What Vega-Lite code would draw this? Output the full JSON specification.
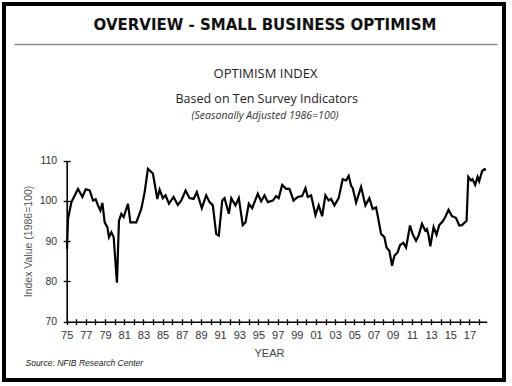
{
  "$schema": "https://vega.github.io/schema/vega-lite/v6.json",
  "width": 500,
  "height": 376,
  "autosize": "none",
  "padding": {"left": 4, "top": 4, "right": 8, "bottom": 6},
  "background": "white",
  "config": {
    "view": {"stroke": "black", "strokeWidth": 4, "fill": "white"},
    "axis": {"labelFont": "Liberation Sans", "titleFont": "Liberation Sans", "labelColor": "#333", "titleColor": "#444", "grid": false}
  },
  "title": {
    "text": "OVERVIEW - SMALL BUSINESS OPTIMISM",
    "subtitle": "(Seasonally Adjusted 1986=100)",
    "font": "DejaVu Sans",
    "fontSize": 15,
    "fontWeight": "bold",
    "color": "#111",
    "subtitleFont": "Open Sans",
    "subtitleFontSize": 10.5,
    "subtitleFontStyle": "italic",
    "subtitleColor": "#333",
    "subtitlePadding": 78,
    "anchor": "middle",
    "dx": 11,
    "offset": -117
  },
  "data": {
    "values": [
      {"year": 1975.03, "index": 88.1},
      {"year": 1975.14, "index": 95.6},
      {"year": 1975.49, "index": 99.7},
      {"year": 1976.18, "index": 103.0},
      {"year": 1976.64, "index": 101.0},
      {"year": 1976.98, "index": 102.9},
      {"year": 1977.40, "index": 102.6},
      {"year": 1977.74, "index": 100.1},
      {"year": 1978.02, "index": 100.4},
      {"year": 1978.26, "index": 98.9},
      {"year": 1978.51, "index": 97.6},
      {"year": 1978.72, "index": 99.5},
      {"year": 1978.96, "index": 94.7},
      {"year": 1979.24, "index": 93.5},
      {"year": 1979.41, "index": 91.0},
      {"year": 1979.66, "index": 92.2},
      {"year": 1979.90, "index": 91.0},
      {"year": 1980.24, "index": 79.7},
      {"year": 1980.45, "index": 95.1},
      {"year": 1980.70, "index": 96.8},
      {"year": 1980.94, "index": 96.0},
      {"year": 1981.39, "index": 99.3},
      {"year": 1981.64, "index": 94.7},
      {"year": 1982.26, "index": 94.7},
      {"year": 1982.78, "index": 98.0},
      {"year": 1983.13, "index": 102.2},
      {"year": 1983.47, "index": 108.0},
      {"year": 1983.82, "index": 107.2},
      {"year": 1983.99, "index": 106.8},
      {"year": 1984.45, "index": 100.5},
      {"year": 1984.69, "index": 102.8},
      {"year": 1985.03, "index": 100.7},
      {"year": 1985.31, "index": 101.4},
      {"year": 1985.66, "index": 99.3},
      {"year": 1986.15, "index": 101.0},
      {"year": 1986.59, "index": 99.0},
      {"year": 1986.95, "index": 100.1},
      {"year": 1987.40, "index": 102.6},
      {"year": 1987.81, "index": 100.7},
      {"year": 1988.23, "index": 100.5},
      {"year": 1988.57, "index": 102.2},
      {"year": 1989.09, "index": 98.2},
      {"year": 1989.55, "index": 101.4},
      {"year": 1989.90, "index": 99.7},
      {"year": 1990.24, "index": 98.9},
      {"year": 1990.59, "index": 91.8},
      {"year": 1990.86, "index": 91.4},
      {"year": 1991.22, "index": 100.1},
      {"year": 1991.46, "index": 100.7},
      {"year": 1991.91, "index": 96.8},
      {"year": 1992.16, "index": 100.7},
      {"year": 1992.60, "index": 98.9},
      {"year": 1992.95, "index": 100.7},
      {"year": 1993.36, "index": 94.0},
      {"year": 1993.65, "index": 94.7},
      {"year": 1993.99, "index": 99.3},
      {"year": 1994.34, "index": 98.2},
      {"year": 1994.93, "index": 101.8},
      {"year": 1995.28, "index": 99.9},
      {"year": 1995.63, "index": 101.4},
      {"year": 1995.97, "index": 99.7},
      {"year": 1996.49, "index": 100.1},
      {"year": 1996.84, "index": 101.2},
      {"year": 1997.11, "index": 100.7},
      {"year": 1997.47, "index": 104.0},
      {"year": 1997.89, "index": 103.0},
      {"year": 1998.23, "index": 103.0},
      {"year": 1998.65, "index": 100.1},
      {"year": 1999.09, "index": 101.0},
      {"year": 1999.55, "index": 101.2},
      {"year": 1999.90, "index": 103.2},
      {"year": 2000.14, "index": 101.0},
      {"year": 2000.49, "index": 101.4},
      {"year": 2000.94, "index": 96.5},
      {"year": 2001.28, "index": 98.9},
      {"year": 2001.64, "index": 96.2},
      {"year": 2001.98, "index": 101.4},
      {"year": 2002.32, "index": 100.1},
      {"year": 2002.57, "index": 100.5},
      {"year": 2002.92, "index": 98.9},
      {"year": 2003.36, "index": 100.7},
      {"year": 2003.78, "index": 105.4},
      {"year": 2004.14, "index": 105.1},
      {"year": 2004.41, "index": 106.2},
      {"year": 2004.66, "index": 103.7},
      {"year": 2004.82, "index": 103.3},
      {"year": 2005.18, "index": 99.6},
      {"year": 2005.70, "index": 103.5},
      {"year": 2006.15, "index": 98.9},
      {"year": 2006.56, "index": 100.7},
      {"year": 2006.91, "index": 98.0},
      {"year": 2007.26, "index": 98.4},
      {"year": 2007.43, "index": 96.4},
      {"year": 2007.78, "index": 91.8},
      {"year": 2008.13, "index": 91.0},
      {"year": 2008.36, "index": 88.4},
      {"year": 2008.65, "index": 87.6},
      {"year": 2008.93, "index": 83.9},
      {"year": 2009.17, "index": 86.4},
      {"year": 2009.51, "index": 87.2},
      {"year": 2009.76, "index": 89.0},
      {"year": 2010.10, "index": 89.6},
      {"year": 2010.39, "index": 88.4},
      {"year": 2010.80, "index": 93.9},
      {"year": 2011.07, "index": 91.8},
      {"year": 2011.43, "index": 90.1},
      {"year": 2011.70, "index": 91.4},
      {"year": 2012.05, "index": 94.3},
      {"year": 2012.40, "index": 92.6},
      {"year": 2012.57, "index": 93.0},
      {"year": 2012.74, "index": 91.4},
      {"year": 2012.92, "index": 88.7},
      {"year": 2013.26, "index": 93.5},
      {"year": 2013.57, "index": 91.6},
      {"year": 2013.85, "index": 94.0},
      {"year": 2014.20, "index": 94.9},
      {"year": 2014.48, "index": 96.0},
      {"year": 2014.82, "index": 97.8},
      {"year": 2015.18, "index": 96.2},
      {"year": 2015.59, "index": 95.8},
      {"year": 2015.94, "index": 93.9},
      {"year": 2016.22, "index": 94.0},
      {"year": 2016.70, "index": 95.1},
      {"year": 2016.88, "index": 106.0},
      {"year": 2017.16, "index": 105.1},
      {"year": 2017.32, "index": 105.4},
      {"year": 2017.60, "index": 104.0},
      {"year": 2017.85, "index": 106.0},
      {"year": 2018.02, "index": 104.9},
      {"year": 2018.32, "index": 107.4},
      {"year": 2018.56, "index": 107.9},
      {"year": 2018.72, "index": 107.7}
    ]
  },
  "layer": [
    {
      "layer": [
        {
          "mark": {"type": "line", "color": "black", "strokeWidth": 2.2},
          "encoding": {
            "x": {
              "field": "year", "type": "quantitative",
              "scale": {"domain": [1975, 2018.8], "range": [62.7, 482.7], "nice": false, "zero": false},
              "axis": {
                "orient": "bottom", "offset": -61.3, "domain": false, "tickSize": 6, "tickColor": "black", "tickWidth": 1.3,
                "values": [1975,1976,1977,1978,1979,1980,1981,1982,1983,1984,1985,1986,1987,1988,1989,1990,1991,1992,1993,1994,1995,1996,1997,1998,1999,2000,2001,2002,2003,2004,2005,2006,2007,2008,2009,2010,2011,2012,2013,2014,2015,2016,2017,2018],
                "labelExpr": "datum.value % 2 == 1 ? slice(toString(datum.value), 2) : ''",
                "labelOverlap": false, "labelFlush": false, "labelFontSize": 11, "labelPadding": 5,
                "title": "YEAR", "titleFontSize": 11, "titleFontWeight": "normal", "titleX": 265, "titleY": 35, "titleAlign": "center", "titleBaseline": "middle"
              }
            },
            "y": {
              "field": "index", "type": "quantitative",
              "scale": {"domain": [70, 110], "range": [317.7, 156.7], "nice": false, "zero": false},
              "axis": {
                "orient": "left", "offset": -66.2, "domain": false, "tickSize": 7, "tickColor": "black", "tickWidth": 1.3,
                "values": [70, 80, 90, 100, 110], "labelFontSize": 10.5, "labelPadding": 6.5,
                "title": "Index Value (1986=100)", "titleFontSize": 10.5, "titleFontWeight": "normal", "titleColor": "#555",
                "titleX": -41.2, "titleY": 237, "titleAngle": -90, "titleAlign": "center", "titleBaseline": "middle"
              }
            }
          }
        },
        {
          "mark": {"type": "line", "opacity": 0},
          "encoding": {
            "x": {
              "field": "year", "type": "quantitative",
              "axis": {
                "orient": "bottom", "offset": -58.3, "domain": true, "domainColor": "black", "domainWidth": 1.6, "ticks": false, "labels": false,
                "title": "Source: NFIB Research Center", "titleFont": "Liberation Sans", "titleFontSize": 8.5, "titleFontStyle": "italic", "titleFontWeight": "normal", "titleColor": "#222",
                "titleX": 21, "titleY": 41, "titleAlign": "left", "titleBaseline": "middle", "titleAnchor": "start"
              }
            },
            "y": {
              "field": "index", "type": "quantitative",
              "axis": {
                "orient": "left", "offset": -62.7, "domain": true, "domainColor": "black", "domainWidth": 1.6, "ticks": false, "labels": false,
                "title": "Based on Ten Survey Indicators", "titleFont": "Open Sans", "titleFontSize": 12.5, "titleFontWeight": "normal", "titleColor": "#222",
                "titleX": 199.5, "titleY": 94.5, "titleAngle": 0, "titleAlign": "center", "titleBaseline": "middle"
              }
            }
          }
        }
      ],
      "resolve": {"axis": {"x": "independent", "y": "independent"}}
    },
    {
      "mark": {"type": "point", "opacity": 0},
      "encoding": {
        "x": {
          "field": "year", "type": "quantitative",
          "scale": {"domain": [1975, 2018.8], "range": [10, 493], "nice": false, "zero": false},
          "axis": {
            "orient": "top", "offset": -40, "domain": true, "domainColor": "#888", "domainWidth": 1.5, "ticks": false, "labels": false,
            "title": "OPTIMISM INDEX", "titleFont": "Open Sans", "titleFontSize": 13, "titleFontWeight": "normal", "titleColor": "#222",
            "titleX": 261, "titleY": 29, "titleAlign": "center", "titleBaseline": "middle"
          }
        }
      }
    }
  ],
  "resolve": {"scale": {"x": "independent"}, "axis": {"x": "independent"}}
}
